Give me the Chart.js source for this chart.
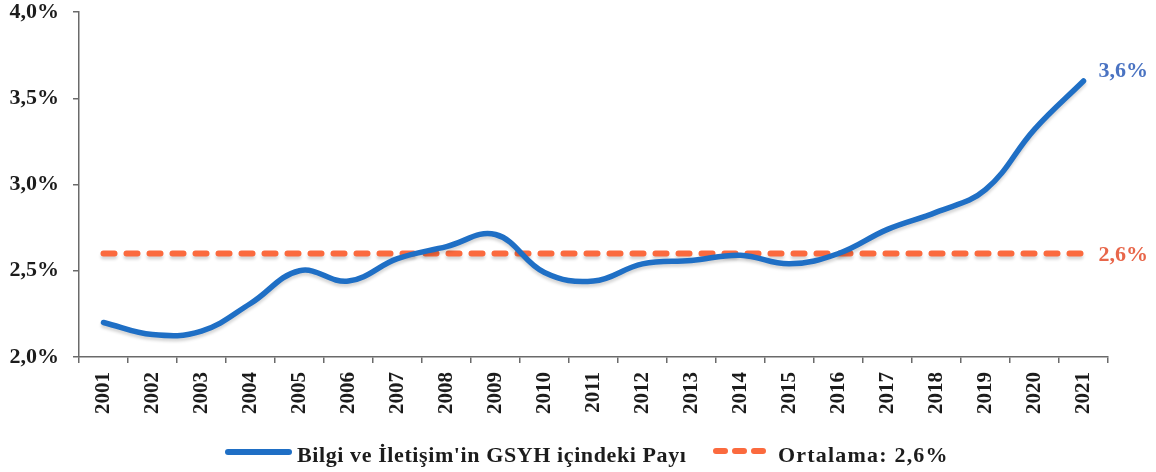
<!DOCTYPE html>
<html lang="tr">
<head>
<meta charset="utf-8">
<title>Bilgi ve İletişim'in GSYH içindeki Payı</title>
<script src="https://cdn.jsdelivr.net/npm/chart.js@4.4.1/dist/chart.umd.min.js"></script>
<style>
  html, body { margin: 0; padding: 0; background: #fff; }
  #wrap { position: relative; width: 1156px; height: 472px; }
</style>
</head>
<body>
<div id="wrap"><canvas id="payChart" width="1156" height="472"></canvas></div>
<script>
// Yıllar ve seriler
const years = ['2001', '2002', '2003', '2004', '2005', '2006', '2007', '2008', '2009', '2010',
               '2011', '2012', '2013', '2014', '2015', '2016', '2017', '2018', '2019', '2020', '2021'];
const sharePct = [2.20, 2.13, 2.15, 2.31, 2.50, 2.44, 2.57, 2.64, 2.71, 2.49,
                  2.44, 2.54, 2.56, 2.59, 2.54, 2.60, 2.74, 2.84, 2.97, 3.32, 3.60];
const averagePct = [2.6, 2.6, 2.6, 2.6, 2.6, 2.6, 2.6, 2.6, 2.6, 2.6,
                    2.6, 2.6, 2.6, 2.6, 2.6, 2.6, 2.6, 2.6, 2.6, 2.6, 2.6];
const seriesNames = ["Bilgi ve İletişim'in GSYH içindeki Payı", 'Ortalama: 2,6%'];

const BLUE = '#1f6fc5';
const ORANGE = '#fb6a3e';
const SERIF = "'Liberation Serif', 'DejaVu Serif', serif";

function pct(v) {
    return v.toFixed(1).replace('.', ',') + '%';
}

// Çizgilerin altındaki hafif gölge
const lineShadow = {
    id: 'lineShadow',
    beforeDatasetDraw(chart) {
        const ctx = chart.ctx;
        ctx.save();
        ctx.shadowColor = 'rgba(0, 0, 0, 0.16)';
        ctx.shadowBlur = 3;
        ctx.shadowOffsetY = 3;
    },
    afterDatasetDraw(chart) {
        chart.ctx.restore();
    }
};

// Son değer etiketleri ve alt açıklama
const labelsAndLegend = {
    id: 'labelsAndLegend',
    afterDraw(chart) {
        const ctx = chart.ctx;
        const x = chart.scales.x;
        const y = chart.scales.y;
        const last = years.length - 1;

        ctx.save();
        ctx.font = 'bold 22px ' + SERIF;
        ctx.textAlign = 'left';
        ctx.textBaseline = 'middle';

        ctx.fillStyle = '#4a73c2';
        ctx.fillText(pct(sharePct[last]), x.getPixelForValue(last) + 15, y.getPixelForValue(sharePct[last]) - 10);

        ctx.fillStyle = '#e8664a';
        ctx.fillText(pct(averagePct[last]), x.getPixelForValue(last) + 15, y.getPixelForValue(averagePct[last]) + 2);

        // açıklama
        const ly = 452;
        ctx.lineWidth = 6;
        ctx.lineCap = 'round';
        ctx.strokeStyle = BLUE;
        ctx.beginPath();
        ctx.moveTo(228, ly);
        ctx.lineTo(289, ly);
        ctx.stroke();

        ctx.strokeStyle = ORANGE;
        ctx.setLineDash([9, 10]);
        ctx.beginPath();
        ctx.moveTo(716, ly - 1);
        ctx.lineTo(764, ly - 1);
        ctx.stroke();
        ctx.setLineDash([]);

        ctx.fillStyle = '#1c1c1c';
        ctx.font = 'bold 22px ' + SERIF;
        ctx.letterSpacing = '0.6px';
        ctx.textBaseline = 'alphabetic';
        ctx.fillText(seriesNames[0], 297, 462);
        ctx.letterSpacing = '1.2px';
        ctx.fillText(seriesNames[1], 778, 462);
        ctx.restore();
    }
};

new Chart(document.getElementById('payChart'), {
    type: 'line',
    data: {
        labels: years,
        datasets: [
            {
                label: seriesNames[0],
                data: sharePct,
                borderColor: BLUE,
                borderWidth: 5.5,
                tension: 0.4,
                borderCapStyle: 'round',
                pointRadius: 0
            },
            {
                label: seriesNames[1],
                data: averagePct,
                borderColor: ORANGE,
                borderWidth: 6,
                borderDash: [11, 12],
                borderCapStyle: 'round',
                pointRadius: 0
            }
        ]
    },
    options: {
        responsive: false,
        animation: false,
        layout: { padding: { left: 0, right: 48, top: 12, bottom: 50 } },
        plugins: {
            legend: { display: false },
            tooltip: { enabled: false }
        },
        scales: {
            x: {
                offset: true,
                grid: {
                    offset: true,
                    drawOnChartArea: false,
                    drawTicks: true,
                    tickLength: 6,
                    color: '#6a6a6a',
                    lineWidth: 1.5
                },
                border: { color: '#6a6a6a', width: 1.5 },
                ticks: {
                    minRotation: 90,
                    maxRotation: 90,
                    padding: 9,
                    color: '#1c1c1c',
                    font: { family: SERIF, size: 21, weight: 'bold' }
                },
                afterFit(scale) {
                    scale.height = 65;
                    scale.paddingTop = 0;
                    scale.paddingBottom = 0;
                }
            },
            y: {
                min: 2,
                max: 4,
                ticks: {
                    stepSize: 0.5,
                    padding: 14,
                    color: '#1c1c1c',
                    font: { family: SERIF, size: 22, weight: 'bold' },
                    callback: v => pct(v)
                },
                grid: {
                    drawOnChartArea: false,
                    drawTicks: true,
                    tickLength: 6,
                    color: '#6a6a6a',
                    lineWidth: 1.5
                },
                border: { color: '#6a6a6a', width: 1.5 },
                afterFit(scale) {
                    scale.width = 79;
                    scale.paddingTop = 0;
                    scale.paddingBottom = 0;
                }
            }
        }
    },
    plugins: [lineShadow, labelsAndLegend]
});
</script>
</body>
</html>
